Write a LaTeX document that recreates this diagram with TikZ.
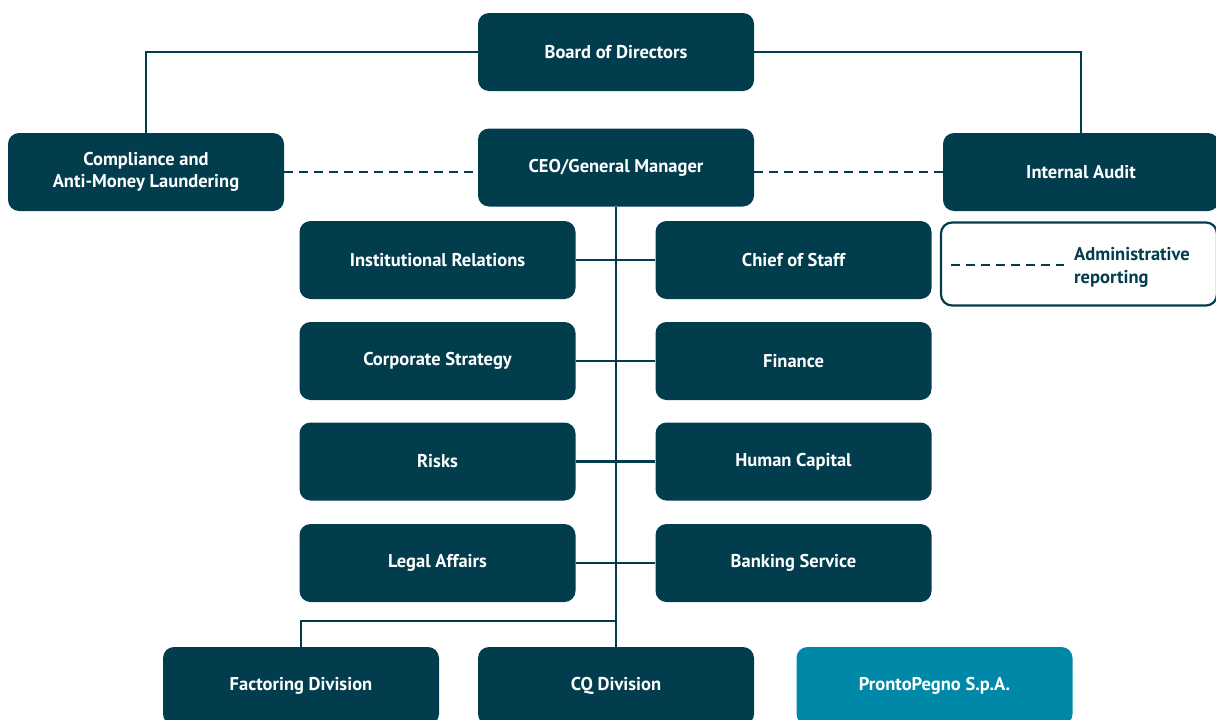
\documentclass[tikz,border=0pt]{standalone}
\usepackage{fontspec}
\setmainfont{PT Sans}
\definecolor{navy}{HTML}{023D4E}
\definecolor{teal}{HTML}{0088A8}
\begin{document}
\begin{tikzpicture}[x=1pt,y=-1pt,
  box/.style={fill=navy,rounded corners=11pt,minimum width=276pt,minimum height=78pt,inner sep=0pt,text=white,font=\bfseries\fontsize{18.5}{22.5}\selectfont,align=center},
  conn/.style={draw=navy,line width=2.4pt},
  dconn/.style={draw=navy,line width=2.4pt,dash pattern=on 9pt off 6pt}]
\useasboundingbox (0,0) rectangle (1216,720);
\node[box] (board) at (616,52) {Board of Directors};
\node[box] (ceo) at (616,167.5) {CEO/General Manager};
\node[box] (comp) at (146,172) {Compliance and\\Anti-Money Laundering};
\node[box] (audit) at (1081,172) {Internal Audit};
\node[box] (inst) at (437.5,260) {Institutional Relations};
\node[box] (cos) at (793.5,260) {Chief of Staff};
\node[box] (strat) at (437.5,361) {Corporate Strategy};
\node[box] (fin) at (793.5,361) {Finance};
\node[box] (risk) at (437.5,461.5) {Risks};
\node[box] (hc) at (793.5,461.5) {Human Capital};
\node[box] (legal) at (437.5,563) {Legal Affairs};
\node[box] (bank) at (793.5,563) {Banking Service};
\node[box] (fact) at (301,686) {Factoring Division};
\node[box] (cq) at (616,686) {CQ Division};
\node[box,fill=teal] (pp) at (934.5,686) {ProntoPegno S.p.A.};
% legend
\node[draw=navy,line width=2.2pt,fill=white,rounded corners=11pt,minimum width=276pt,minimum height=83pt] (leg) at (1079,264) {};
\coordinate (l1) at (951,265);
\coordinate (l2) at (1064,265);
\draw[dconn] (l1) -- (l2);
\node[anchor=west,text=navy,font=\bfseries\fontsize{18.5}{23}\selectfont,align=left,inner sep=0pt] (legt) at (1074,267.5) {Administrative\\reporting};
% connectors
\draw[conn] (board.west) -| (comp.north);
\draw[conn] (board.east) -| (audit.north);
\draw[dconn] (comp.east) -- (ceo.west |- comp.east);
\draw[dconn] (ceo.east |- audit.west) -- (audit.west);
\draw[conn] (ceo.south) -- (cq.north);
\draw[conn] (inst.east) -- (cos.west);
\draw[conn] (strat.east) -- (fin.west);
\draw[conn] (risk.east) -- (hc.west);
\draw[conn] (legal.east) -- (bank.west);
\coordinate (j) at (616,621);
\draw[conn] (j) -| (fact.north);
\end{tikzpicture}
\end{document}
